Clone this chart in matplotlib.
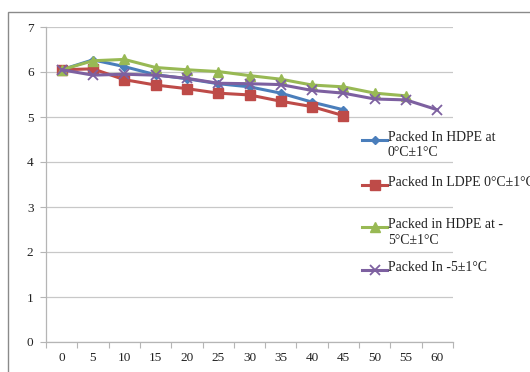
import numpy as np
import matplotlib
matplotlib.use("Agg")
import matplotlib.pyplot as plt
from matplotlib.lines import Line2D
from matplotlib.patches import Rectangle

# Storage time (days) categories on the x axis
times = [0, 5, 10, 15, 20, 25, 30, 35, 40, 45, 50, 55, 60]

# pH readings for each packaging / storage condition
hdpe_0c = [6.05, 6.27, 6.12, 5.94, 5.85, 5.74, 5.67, 5.53, 5.33, 5.16]
ldpe_0c = [6.05, 6.07, 5.83, 5.71, 5.63, 5.53, 5.49, 5.35, 5.23, 5.03]
hdpe_m5c = [6.05, 6.25, 6.28, 6.10, 6.05, 6.01, 5.92, 5.84, 5.71, 5.67, 5.53, 5.47]
pack_m5c = [6.05, 5.93, 5.95, 5.93, 5.86, 5.75, 5.74, 5.72, 5.59, 5.53, 5.40, 5.38, 5.16]

labels = ["Packed In HDPE at\n0°C±1°C",
          "Packed In LDPE 0°C±1°C",
          "Packed in HDPE at -\n5°C±1°C",
          "Packed In -5±1°C"]
y_ticks = [0, 1, 2, 3, 4, 5, 6, 7]

plt.rcParams['font.family'] = ['Liberation Serif', 'DejaVu Serif']

W, H = 530, 372
fig = plt.figure(figsize=(W / 100, H / 100), dpi=100)

# outer chart border
fig.add_artist(Rectangle((8 / W, -0.1), 1.2, (H - 12) / H + 0.1,
                         transform=fig.transFigure, fill=False,
                         edgecolor='#8a8a8a', linewidth=1.0))

ax = fig.add_axes([46 / W, (H - 342) / H, (453 - 46) / W, (342 - 27) / H])

styles = [
    dict(color='#4A7EBB', marker='D', markersize=4.5),
    dict(color='#BE4B48', marker='s', markersize=6.5),
    dict(color='#98B954', marker='^', markersize=7.5),
    dict(color='#7D60A0', marker='x', markersize=7, markeredgewidth=1.3),
]
series = [hdpe_0c, ldpe_0c, hdpe_m5c, pack_m5c]

for vals, st in zip(series, styles):
    xs = np.arange(len(vals))
    ax.plot(xs, vals, linewidth=2.2, zorder=3, **st)

ax.set_xlim(-0.5, len(times) - 0.5)
ax.set_ylim(0, 7)
ax.set_yticks(y_ticks)
ax.set_yticklabels([str(v) for v in y_ticks])
ax.yaxis.grid(True, color='#c8c8c8', linewidth=0.9)
ax.set_axisbelow(True)

ax.set_xticks(np.arange(-0.5, len(times), 1.0))
ax.set_xticklabels([])
ax.set_xticks(np.arange(len(times)), minor=True)
ax.set_xticklabels([str(t) for t in times], minor=True)
ax.tick_params(axis='x', which='major', length=4, color='#b5b5b5', width=0.8)
ax.tick_params(axis='x', which='minor', length=0, pad=7, labelsize=9.5, labelcolor='#222222')
ax.tick_params(axis='y', length=4, color='#b5b5b5', width=0.8, pad=5,
               labelsize=9.5, labelcolor='#222222')

for side in ('top', 'right'):
    ax.spines[side].set_visible(False)
for side in ('left', 'bottom'):
    ax.spines[side].set_color('#b5b5b5')
    ax.spines[side].set_linewidth(0.9)

# legend keys at the right side, each key aligned with its first text line
legend_y = [140, 185, 227, 270]
for lab, st, ly in zip(labels, styles, legend_y):
    yf = 1 - ly / H
    key = Line2D([362 / W, 387 / W], [yf, yf], transform=fig.transFigure,
                 color=st['color'], linewidth=2.2)
    fig.add_artist(key)
    mk = {k: v for k, v in st.items() if k != 'color'}
    dot = Line2D([374.5 / W], [yf], transform=fig.transFigure,
                 color=st['color'], linestyle='none', **mk)
    fig.add_artist(dot)
    fig.text(388 / W, yf + 9 / H, lab, ha='left', va='top', fontsize=9.9,
             color='#222222', linespacing=1.25)

fig.savefig('out.png', dpi=100)
